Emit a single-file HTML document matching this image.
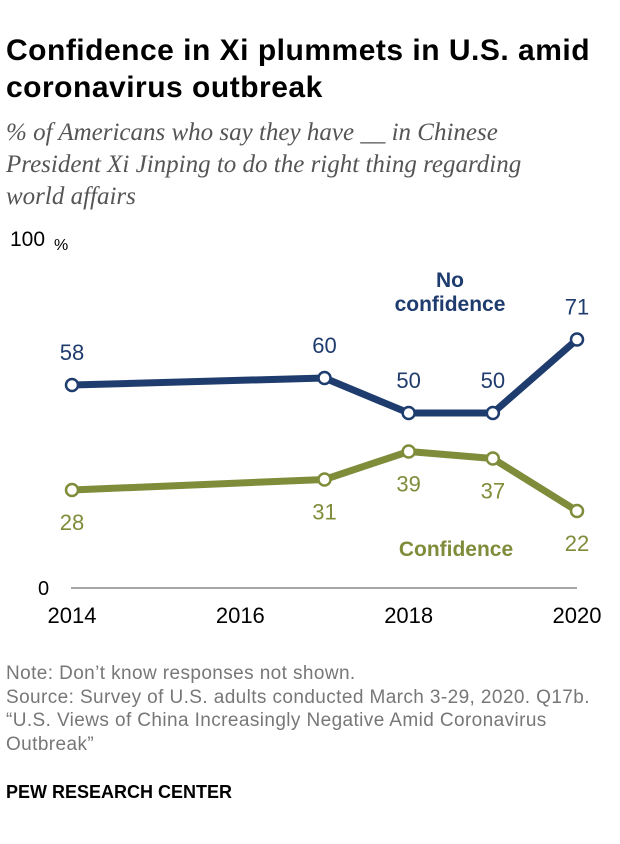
<!DOCTYPE html>
<html><head><meta charset="utf-8"><style>
body{margin:0;background:#fff;width:620px;height:844px;overflow:hidden;font-family:"Liberation Sans",sans-serif;}
.t{position:absolute;left:6px;top:32px;font-size:30px;font-weight:bold;color:#000;line-height:37px;width:614px;letter-spacing:0.5px}
.s{position:absolute;left:6px;top:117px;font-family:"Liberation Serif",serif;font-style:italic;font-size:25px;color:#555;line-height:32px;width:570px}
.n{position:absolute;left:6px;top:662px;font-size:19px;color:#777;line-height:23.7px;white-space:nowrap;letter-spacing:0.4px}
.p{position:absolute;left:6px;top:782px;font-size:18px;font-weight:bold;color:#000}
</style></head><body>
<div class="t">Confidence in Xi plummets in U.S. amid coronavirus outbreak</div>
<div class="s">% of Americans who say they have __ in Chinese President Xi Jinping to do the right thing regarding world affairs</div>
<svg id="c" width="620" height="844" style="position:absolute;left:0;top:0"></svg>
<div class="n">Note: Don’t know responses not shown.<br>Source: Survey of U.S. adults conducted March 3-29, 2020. Q17b.<br>“U.S. Views of China Increasingly Negative Amid Coronavirus<br>Outbreak”</div>
<div class="p">PEW RESEARCH CENTER</div>
<script>
const years=[2014,2017,2018,2019,2020];
const noConf=[58,60,50,50,71];
const conf=[28,31,39,37,22];
const xTicks=[2014,2016,2018,2020];
const NS="http://www.w3.org/2000/svg",svg=document.getElementById('c');
const x=y=>72+(y-2014)*(577-72)/6, y=v=>588-v*3.5;
function mk(t,a,txt){const e=document.createElementNS(NS,t);for(const k in a)e.setAttribute(k,a[k]);if(txt!=null)e.textContent=txt;svg.appendChild(e);return e;}
let e=mk('line',{x1:71,x2:577,y1:y(0),y2:y(0),stroke:'#888','stroke-width':1.5});

e=mk('text',{x:38,y:y(0)+7,'font-size':20,fill:'#000'},'0');

e=mk('text',{x:10,y:y(100)+8,'font-size':21,fill:'#000'},'100');

e=mk('text',{x:54,y:y(100)+12,'font-size':16,fill:'#000'},'%');

xTicks.forEach(t=>{const l=mk('text',{x:x(t),y:623,'font-size':22,'text-anchor':'middle',fill:'#000'},t);
});
function series(vals,col,name,above){
 const pl=mk('polyline',{points:years.map((yr,i)=>x(yr)+','+y(vals[i])).join(' '),fill:'none',stroke:col,'stroke-width':7,'stroke-linejoin':'round'});
 
 years.forEach((yr,i)=>{const c=mk('circle',{cx:x(yr),cy:y(vals[i]),r:6,fill:'#fff',stroke:col,'stroke-width':2.5});
 
 const t=mk('text',{x:x(yr),y:y(vals[i])+(above?-25:40),'font-size':22,'text-anchor':'middle',fill:col},vals[i]);
 });
}
series(noConf,'#1f3c6e','no-confidence',true);
series(conf,'#7f8c3a','confidence',false);
e=mk('text',{x:450,y:287,'font-size':21,'font-weight':'bold','text-anchor':'middle',fill:'#1f3c6e'},'No');

e=mk('text',{x:450,y:311,'font-size':21,'font-weight':'bold','text-anchor':'middle',fill:'#1f3c6e'},'confidence');

e=mk('text',{x:456,y:556,'font-size':21,'font-weight':'bold','text-anchor':'middle',fill:'#7f8c3a'},'Confidence');

</script>
</body></html>
